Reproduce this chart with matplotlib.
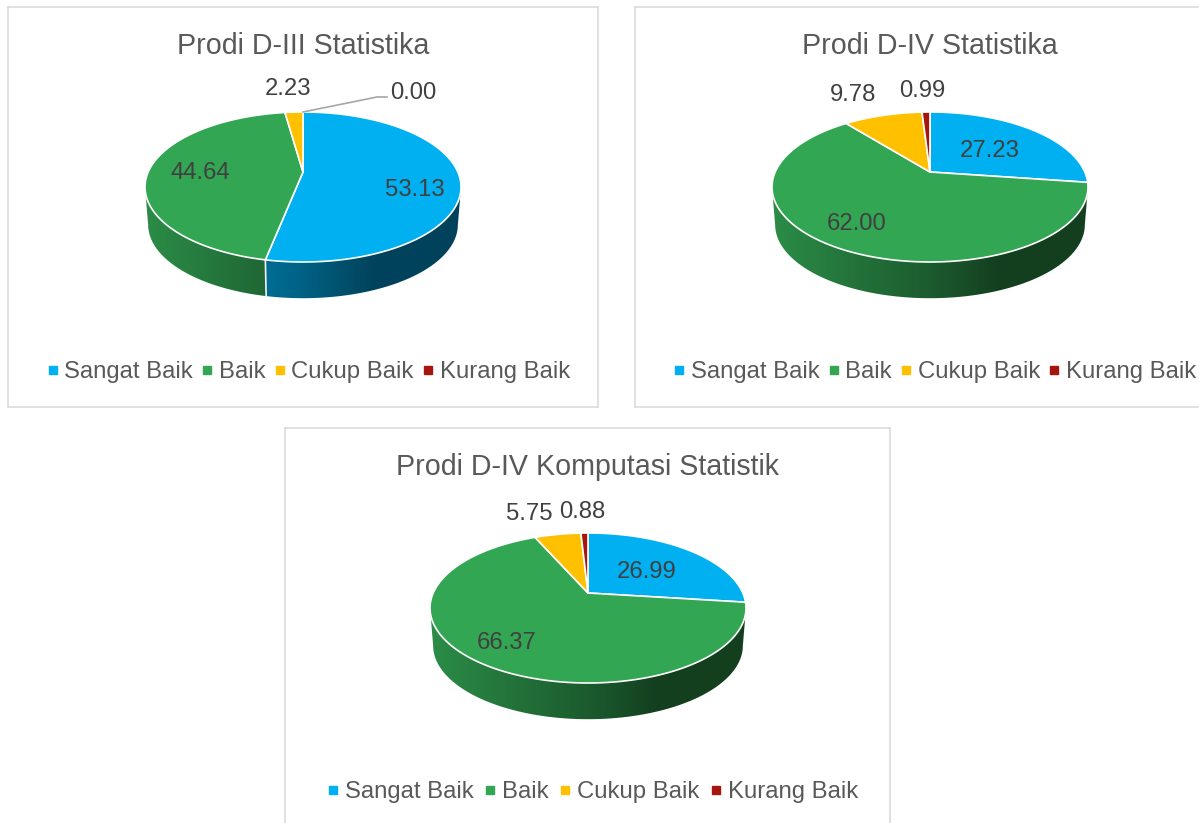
import numpy as np
import matplotlib
matplotlib.use("Agg")
import matplotlib.pyplot as plt
from matplotlib.lines import Line2D
from matplotlib.patches import Polygon

plt.rcParams['font.family'] = ['Liberation Sans', 'DejaVu Sans']

#data
kategori = ["Sangat Baik", "Baik", "Cukup Baik", "Kurang Baik"]
warna = ["#00B0F0", "#33A654", "#FFC000", "#A5170E"]
judul = ["Prodi D-III Statistika", "Prodi D-IV Statistika", "Prodi D-IV Komputasi Statistik"]
d3_stat = [53.13, 44.64, 2.23, 0.00]
d4_stat = [27.23, 62.00, 9.78, 0.99]
d4_komstat = [26.99, 66.37, 5.75, 0.88]

W, H = 1204, 823
fig = plt.figure(figsize=(W/100, H/100), dpi=100)


#perspective of the tilted disc, unit circle to pixels relative to the apex
def disc(angle):
    x = np.sin(angle)
    y = np.cos(angle)
    d = 1 + 0.2*y
    return 154.8*x/d, -72*y/d


#shade of the side wall, goes by horizontal position, one row of pixels
def shade(base):
    t = np.linspace(0, 1, 320)
    f = np.interp(t, [0, 0.5, 0.72, 1], [0.85, 0.55, 0.38, 0.38])
    return np.array(matplotlib.colors.to_rgb(base))*f[None, :, None]


def draw_pie(ax, values, cx, cy):
    xlim, ylim = ax.get_xlim(), ax.get_ylim()
    total = sum(values)
    edges = np.cumsum([0] + list(values))/total*2*np.pi
    #side wall first, only the front part of the rim is seen
    for k, v in enumerate(values):
        if v == 0:
            continue
        a = np.linspace(edges[k], edges[k+1], max(int(v*8), 4))
        x, y = disc(a)
        #widest point of the ellipse is 15 px below the apex
        front = y >= 15
        if front.sum() < 2:
            continue
        x, y = x[front], y[front]
        rim = np.c_[np.r_[cx+x, cx+x[::-1]*0.98], np.r_[cy+y, cy+y[::-1]*0.98+38]]
        patch = Polygon(rim, closed=True, transform=ax.transData, fc="none", ec="none")
        ax.add_patch(patch)
        im = ax.imshow(shade(warna[k]), extent=(cx-160, cx+160, cy+135, cy-70), aspect="auto",
                       interpolation="bilinear", zorder=2)
        im.set_clip_path(patch)
    ax.set_xlim(xlim)
    ax.set_ylim(ylim)
    #white seam on the wall where a slice ends at the front
    for e in edges[:-1]:
        x, y = disc(e)
        if y > 20:
            ax.plot([cx+x, cx+x*0.98], [cy+y, cy+y*0.98+38], color="#f2f2f2", lw=1.2, zorder=3)
    #top face
    for k, v in enumerate(values):
        if v == 0:
            continue
        a = np.linspace(edges[k], edges[k+1], max(int(v*8), 4))
        x, y = disc(a)
        ax.fill(np.r_[cx, cx+x], np.r_[cy, cy+y], color=warna[k], ec="white", lw=1.2,
                joinstyle="round", zorder=4)


def setup(box, hide):
    x0, y0, x1, y1 = box
    ax = fig.add_axes([x0/W, 1-y1/H, (x1-x0)/W, (y1-y0)/H])
    ax.set_xlim(0, x1-x0)
    ax.set_ylim(y1-y0, 0)
    ax.set_xticks([])
    ax.set_yticks([])
    for s in ax.spines.values():
        s.set_color("#d9d9d9")
        s.set_linewidth(1.1)
    if hide:
        ax.spines[hide].set_visible(False)
    return ax


def legend(ax, x, y, gap):
    handles = [Line2D([], [], ls="", marker="s", ms=5.4, color=c, mec=c) for c in warna]
    ax.legend(handles, kategori, loc="center", bbox_to_anchor=(x, y), bbox_transform=ax.transData,
              ncol=4, frameon=False, fontsize=17.2, labelcolor="#595959", handlelength=0.45,
              handletextpad=0.27, columnspacing=gap, borderpad=0, borderaxespad=0)


#panels, everything below in pixels from the panel corner
charts = [
    (d3_stat, (8, 7, 598, 407), None, (295, 165), (295, 39), (300.5, 365), 0.36,
     [(407, 183), (192, 166), (280, 82), (405, 86)]),
    (d4_stat, (635, 7, 1198, 407), "right", (295, 165), (295, 39), (300, 365), 0.36,
     [(355, 144), (222, 217), (218, 88), (287, 84)]),
    (d4_komstat, (285, 428, 890, 823), "bottom", (303, 165), (303, 39), (308, 364), 0.47,
     [(362, 144), (222, 215), (244, 86), (297, 84)]),
]

for n, (values, box, hide, centre, title_xy, leg_xy, gap, label_xy) in enumerate(charts):
    ax = setup(box, hide)
    draw_pie(ax, values, *centre)
    ax.text(*title_xy, judul[n], ha="center", va="center", fontsize=20.6, color="#595959")
    for v, (lx, ly) in zip(values, label_xy):
        ax.text(lx, ly, f"{v:.2f}", ha="center", va="center", fontsize=17.2, color="#404040", zorder=6)
    legend(ax, *leg_xy, gap)
    #leader line of the empty slice
    if values[3] == 0:
        tx, ty = disc(0.0)
        ax.plot([centre[0]+tx, 369, 379], [centre[1]+ty, 90, 90], color="#a6a6a6", lw=1.2, zorder=5)

fig.savefig("out.png", dpi=100, facecolor="white")
